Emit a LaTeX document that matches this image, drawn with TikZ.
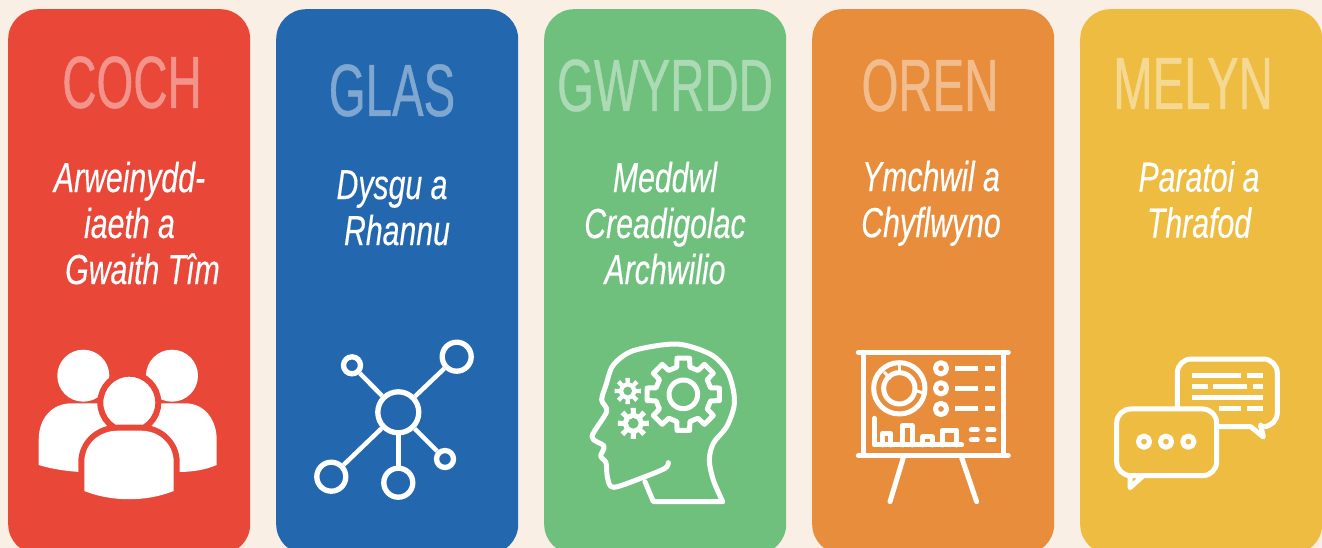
\documentclass[tikz,border=0pt]{standalone}
\usepackage{fontspec}
\newfontfamily\titlefont[FakeStretch=.64,FakeBold=.6]{Liberation Sans}
\newfontfamily\bodyfont[FakeStretch=.72,FakeBold=.3]{Liberation Sans}
\definecolor{bgcol}{HTML}{FAEFE4}
\definecolor{redcol}{HTML}{E94738}
\definecolor{bluecol}{HTML}{2367AE}
\definecolor{greencol}{HTML}{6FBF7D}
\definecolor{orangecol}{HTML}{E88D3C}
\definecolor{yellowcol}{HTML}{EDBC41}
\tikzset{
  card/.style={anchor=north west,minimum width=242pt,minimum height=545pt,rounded corners=30pt,inner sep=0pt},
  title/.style={anchor=base,text=white!42!#1,font=\titlefont\fontsize{74}{74}\selectfont,inner sep=0pt},
  body/.style={anchor=north,text=white,align=center,font=\bodyfont\itshape\fontsize{42}{46}\selectfont,inner sep=0pt},
  icon/.style={draw=white,line width=5pt,line cap=round,line join=round},
  hub/.style={circle,draw=white,line width=5.3pt,inner sep=0pt,minimum size=#1}
}
% gear: \gearpath[options]{teeth}{outer}{root}
\newcommand{\gearpath}[4][icon]{
  \pgfmathsetmacro{\gstep}{360/#2}
  \pgfmathsetmacro{\ghalf}{\gstep*.22}
  \pgfmathsetmacro{\groot}{\gstep*.30}
  \path[#1] (90-\ghalf:#3) \foreach \t in {1,...,#2} {
    -- ({90-\ghalf+(\t-1)*\gstep}:#3) -- ({90+\ghalf+(\t-1)*\gstep}:#3)
    -- ({90+\groot+(\t-1)*\gstep}:#4) -- ({90-\groot+\t*\gstep}:#4)
  } -- cycle;
}
\begin{document}
\begin{tikzpicture}[x=1pt,y=-1pt]
  \path[use as bounding box,fill=bgcol] (0,0) rectangle (1322,548);
  \node[card,fill=redcol] (coch) at (8,9) {};
  \node[card,fill=bluecol] (glas) at (276,9) {};
  \node[card,fill=greencol] (gwyrdd) at (544,9) {};
  \node[card,fill=orangecol] (oren) at (812,9) {};
  \node[card,fill=yellowcol] (melyn) at (1080,9) {};
  \foreach \x/\y/\txt/\col in {132/108/COCH/redcol,392/116/GLAS/bluecol,665/111/GWYRDD/greencol,930/111/OREN/orangecol,1193/109/MELYN/yellowcol}
    \node[title=\col] (t\txt) at (\x,\y) {\txt};
  \node[body] (bcoch) at (129.5,161.4) {Arweinydd-\\iaeth a\\\hspace*{26pt}Gwaith Tîm};
  \node[body] (bglas) at (392,170) {Dysgu a\\\hspace*{10pt}Rhannu};
  \node[body] (bgwyrdd) at (665,161.4) {Meddwl\\Creadigolac\\Archwilio};
  \node[body] (boren) at (931,160.5) {Ymchwil a\\Chyflwyno};
  \node[body] (bmelyn) at (1199,161) {Paratoi a\\Thrafod};
  % pobl
  \fill[white] (83.3,375.7) circle [radius=26];
  \fill[white] (172,375.7) circle [radius=26];
  \fill[white] (38.7,465) -- (38.7,440) .. controls (38.7,418) and (52,403.3) .. (72,403.3)
    -- (185,403.3) .. controls (205,403.3) and (216.7,420) .. (216.7,440) -- (216.7,465)
    .. controls (205,470) and (192,472) .. (178,472) -- (80,472) .. controls (65,471) and (52,469) .. (38.7,465) -- cycle;
  \filldraw[fill=white,draw=redcol,line width=6pt] (129.3,402.7) circle [radius=29];
  \fill[redcol] (78.3,500) -- (78.3,462) .. controls (78.3,442) and (95,424.7) .. (118,424.7)
    -- (141,424.7) .. controls (163,424.7) and (179.7,442) .. (179.7,462) -- (179.7,500) -- cycle;
  \fill[white] (84.3,491) -- (84.3,462) .. controls (84.3,445) and (98,430.7) .. (118,430.7)
    -- (141,430.7) .. controls (160,430.7) and (173.7,445) .. (173.7,462) -- (173.7,491)
    .. controls (146,502) and (112,502) .. (84.3,491) -- cycle;
  % netwaith
  \node[hub=41pt] (nhub) at (398.3,412.3) {};
  \node[hub=17pt] (nA) at (352,365.3) {};
  \node[hub=29pt] (nB) at (456.7,356.7) {};
  \node[hub=29pt] (nC) at (331.3,476.7) {};
  \node[hub=29pt] (nD) at (398.3,482.7) {};
  \node[hub=17pt] (nE) at (445,459) {};
  \foreach \n in {nA,nB,nC,nD,nE}
    \draw[draw=white,line width=4.5pt] (nhub) -- (\n);
  % pen
  \begin{scope}[shift={(570,330)},x=.3333pt,y=-.3333pt]
    \draw[icon] plot[smooth,tension=.5] coordinates {(295,398) (285,415) (220,442) (130,472) (112,440) (108,398)
      (92,378) (102,348) (66,320) (110,245) (95,210) (108,165) (130,105) (190,62) (320,42) (420,72) (470,120) (490,180) (492,230) (470,290) (430,340) (418,390) (430,450) (458,515)};
    \draw[icon] (458,515) -- (250,515) -- (225,455);
    \begin{scope}[shift={(340,193)}]
      \gearpath[icon]{8}{110}{84}
      \draw[icon] (0,0) circle [radius=43];
    \end{scope}
    \begin{scope}[shift={(173,183)}]
      \gearpath[fill=white]{8}{40}{26}
      \fill[greencol] (0,0) circle [radius=13];
    \end{scope}
    \begin{scope}[shift={(190,280)}]
      \gearpath[fill=white]{8}{47}{31}
      \fill[greencol] (0,0) circle [radius=16];
    \end{scope}
  \end{scope}
  % bwrdd
  \begin{scope}[shift={(840,335)},x=.3333pt,y=-.3333pt]
    \draw[icon] (55,52) -- (505,52);
    \draw[icon] (55,362) -- (505,362);
    \draw[icon] (70,52) -- (70,362);
    \draw[icon] (490,52) -- (490,362);
    \draw[icon] (190,368) -- (150,500);
    \draw[icon] (365,368) -- (410,500);
    \draw[icon] (178,160) circle [radius=77];
    \draw[icon] (178,160) circle [radius=47];
    \draw[icon,line width=3pt] (133,112) -- (150,130);
    \draw[icon,line width=3pt] (178,84) -- (178,112);
    \draw[icon,line width=3pt] (222,165) -- (252,175);
    \foreach \y in {100,160,222} {
      \draw[icon] (303,\y) circle [radius=17];
      \draw[icon,line cap=butt] (345,\y) -- (415,\y);
      \draw[icon,line cap=butt] (435,\y) -- (465,\y);
    }
    \draw[icon] (103,250) -- (103,330) -- (365,330);
    \draw[icon] (128,330) -- (128,295) -- (152,295) -- (152,330);
    \draw[icon] (187,330) -- (187,272) -- (216,272) -- (216,330);
    \draw[icon] (248,330) -- (248,306) -- (276,306) -- (276,330);
    \draw[icon] (306,330) -- (306,286) -- (350,286) -- (350,330);
    \foreach \y in {285,315} {
      \draw[icon] (394,\y) -- (412,\y);
      \draw[icon] (444,\y) -- (462,\y);
    }
  \end{scope}
  % sgwrs
  \begin{scope}[shift={(1100,345)},x=.3333pt,y=-.3333pt]
    \draw[icon,rounded corners=14pt] (232,195) -- (232,42) -- (532,42) -- (532,245) -- (482,245);
    \draw[icon] (482,240) -- (490,276) -- (452,245) -- (345,245);
    \filldraw[icon,fill=yellowcol] (130,392) [rounded corners=14pt] -- (50,392) -- (50,192) -- (350,192) -- (350,392) [rounded corners=0pt] -- (130,392) -- (90,428) -- (90,392);
    \foreach \x in {132,198,265}
      \draw[icon] (\x,290) circle [radius=17];
    \foreach \a/\b/\y in {275/422/92,440/490/92,275/325/125,340/440/125,458/490/125,275/490/158,358/424/192,440/490/192}
      \draw[icon,line cap=butt] (\a,\y) -- (\b,\y);
  \end{scope}
\end{tikzpicture}
\end{document}
